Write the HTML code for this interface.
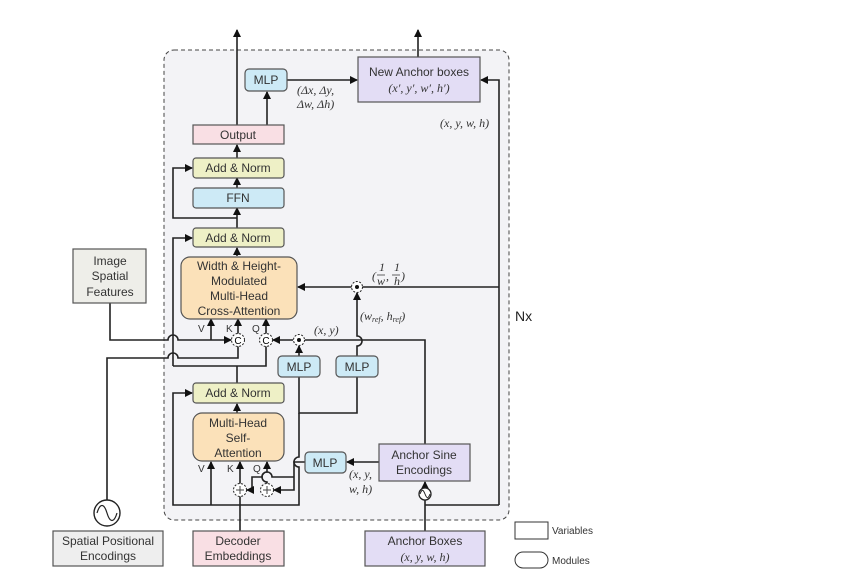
<!DOCTYPE html>
<html><head><meta charset="utf-8"><style>
html,body{margin:0;padding:0;background:#fff;}
svg{display:block;font-family:"Liberation Sans",sans-serif;}
.m{font-family:"Liberation Serif",serif;font-style:italic;font-size:12px;fill:#333;}
.t{font-size:12px;fill:#333;text-anchor:middle;}
.l{stroke:#222;stroke-width:1.6;fill:none;}
.b{stroke:#555;stroke-width:1.2;}
</style></head><body>
<svg width="864" height="582" viewBox="0 0 864 582">
<defs><marker id="a" viewBox="0 0 8 8" refX="7" refY="4" markerWidth="5" markerHeight="5" orient="auto"><path d="M0,0L8,4L0,8z" fill="#111"/></marker></defs>
<rect x="164" y="50" width="345" height="470" rx="10" fill="#f3f3f6" stroke="#444" stroke-dasharray="4,3"/>
<g class="l">
<path d="M237,125V30" marker-end="url(#a)"/>
<path d="M418,57V30" marker-end="url(#a)"/>
<path d="M267,125V92" marker-end="url(#a)"/>
<path d="M287,80H357" marker-end="url(#a)"/>
<path d="M499,505V80H481" marker-end="url(#a)"/>
<path d="M499,505H425"/>
<path d="M237,158V145" marker-end="url(#a)"/>
<path d="M237,188V178" marker-end="url(#a)"/>
<path d="M237,228V208" marker-end="url(#a)"/>
<path d="M237,218H173V168H192" marker-end="url(#a)"/>
<path d="M237,256V248" marker-end="url(#a)"/>
<path d="M237,383V366"/>
<path d="M173,366V238H192" marker-end="url(#a)"/>
<path d="M173,366H266V346"/>
<path d="M499,287H362"/>
<path d="M352,287H298" marker-end="url(#a)"/>
<path d="M357,356V346a5,5 0 0 0 0,-10V293" marker-end="url(#a)"/>
<path d="M425,444V340H305"/>
<path d="M293,340H273" marker-end="url(#a)"/>
<path d="M299,356V346" marker-end="url(#a)"/>
<path d="M299,377V413H357V377"/>
<path d="M110,303V340H168a5,5 0 0 1 10,0H231" marker-end="url(#a)"/>
<path d="M211,340V319" marker-end="url(#a)"/>
<path d="M238,334V319" marker-end="url(#a)"/>
<path d="M266,334V319" marker-end="url(#a)"/>
<path d="M107,500V358H168a5,5 0 0 1 10,0H238V346"/>
<path d="M237,413V404" marker-end="url(#a)"/>
<path d="M299,413V457a5,5 0 0 0 0,10V505H173V393H192" marker-end="url(#a)"/>
<path d="M211,505V462" marker-end="url(#a)"/>
<path d="M240,531V496"/>
<path d="M240,484V462" marker-end="url(#a)"/>
<path d="M267,484V482a5,5 0 0 1 0,-10V462" marker-end="url(#a)"/>
<path d="M379,462H347" marker-end="url(#a)"/>
<path d="M305,462H294V490H274" marker-end="url(#a)"/>
<path d="M294,477H272a5,5 0 0 0 -10,0H252V490H247" marker-end="url(#a)"/>
<path d="M425,531V482" marker-end="url(#a)"/>
</g>
<circle cx="357" cy="287" r="5.5" fill="#fff" stroke="#222" stroke-dasharray="2,1.5"/><circle cx="357" cy="287" r="2" fill="#111"/>
<circle cx="299" cy="340" r="5.5" fill="#fff" stroke="#222" stroke-dasharray="2,1.5"/><circle cx="299" cy="340" r="2" fill="#111"/>
<circle cx="238" cy="340" r="6.5" fill="#fff" stroke="#222" stroke-dasharray="2,1.5"/><text x="238" y="344" font-size="10" text-anchor="middle">C</text>
<circle cx="266" cy="340" r="6.5" fill="#fff" stroke="#222" stroke-dasharray="2,1.5"/><text x="266" y="344" font-size="10" text-anchor="middle">C</text>
<circle cx="240" cy="490" r="6.5" fill="#fff" stroke="#222" stroke-dasharray="2,1.5"/><path d="M236,490h8M240,486v8" stroke="#444"/>
<circle cx="267" cy="490" r="6.5" fill="#fff" stroke="#222" stroke-dasharray="2,1.5"/><path d="M263,490h8M267,486v8" stroke="#444"/>
<circle cx="107" cy="513" r="13" fill="#fff" stroke="#222" stroke-width="1.4"/><path d="M97,513c3,-10 7,-10 10,0s7,10 10,0" stroke="#222" fill="none" stroke-width="1.2"/>
<circle cx="425" cy="494" r="6" fill="#fff" stroke="#222" stroke-width="1.3"/><path d="M420,494c2,-5 3,-5 5,0s3,5 5,0" stroke="#222" fill="none"/>
<rect class="b" x="245" y="69" width="42" height="22" rx="4" fill="#cdeaf6"/><text class="t" x="266" y="84">MLP</text>
<rect class="b" x="358" y="57" width="122" height="45" fill="#e3ddf5"/><text class="t" x="419" y="76">New Anchor boxes</text><text class="m" x="419" y="92" text-anchor="middle">(x′, y′, w′, h′)</text>
<rect class="b" x="193" y="125" width="91" height="19" fill="#f9dfe4"/><text class="t" x="238" y="139">Output</text>
<rect class="b" x="193" y="158" width="91" height="20" rx="3" fill="#eef0c6"/><text class="t" x="238" y="172">Add &amp; Norm</text>
<rect class="b" x="193" y="188" width="91" height="20" rx="3" fill="#cdeaf6"/><text class="t" x="238" y="202">FFN</text>
<rect class="b" x="193" y="228" width="91" height="19" rx="3" fill="#eef0c6"/><text class="t" x="238" y="242">Add &amp; Norm</text>
<rect class="b" x="181" y="257" width="116" height="62" rx="9" fill="#fbe1b9"/>
<text class="t" x="239" y="270">Width &amp; Height-</text><text class="t" x="239" y="285">Modulated</text><text class="t" x="239" y="300">Multi-Head</text><text class="t" x="239" y="315">Cross-Attention</text>
<rect class="b" x="73" y="249" width="73" height="54" fill="#eeeee9"/><text class="t" x="110" y="265">Image</text><text class="t" x="110" y="280">Spatial</text><text class="t" x="110" y="296">Features</text>
<rect class="b" x="278" y="356" width="42" height="21" rx="4" fill="#cdeaf6"/><text class="t" x="299" y="371">MLP</text>
<rect class="b" x="336" y="356" width="42" height="21" rx="4" fill="#cdeaf6"/><text class="t" x="357" y="371">MLP</text>
<rect class="b" x="193" y="383" width="91" height="20" rx="3" fill="#eef0c6"/><text class="t" x="238" y="397">Add &amp; Norm</text>
<rect class="b" x="193" y="413" width="91" height="48" rx="9" fill="#fbe1b9"/><text class="t" x="238" y="427">Multi-Head</text><text class="t" x="238" y="442">Self-</text><text class="t" x="238" y="457">Attention</text>
<rect class="b" x="305" y="452" width="41" height="21" rx="4" fill="#cdeaf6"/><text class="t" x="325" y="467">MLP</text>
<rect class="b" x="379" y="444" width="91" height="37" fill="#e3ddf5"/><text class="t" x="424" y="459">Anchor Sine</text><text class="t" x="424" y="474">Encodings</text>
<rect class="b" x="53" y="531" width="110" height="35" fill="#eeeeee"/><text class="t" x="108" y="545">Spatial Positional</text><text class="t" x="108" y="560">Encodings</text>
<rect class="b" x="193" y="531" width="91" height="35" fill="#f9dfe4"/><text class="t" x="238" y="545">Decoder</text><text class="t" x="238" y="560">Embeddings</text>
<rect class="b" x="365" y="531" width="120" height="35" fill="#e3ddf5"/><text class="t" x="425" y="545">Anchor Boxes</text><text class="m" x="425" y="561" text-anchor="middle">(x, y, w, h)</text>
<text class="m" x="297" y="94">(Δx, Δy,</text><text class="m" x="297" y="108">Δw, Δh)</text>
<text class="m" x="440" y="127">(x, y, w, h)</text>
<text class="m" x="372" y="280">(</text><text class="m" x="379" y="271">1</text><path d="M377,275h8M392,275h8" stroke="#333" stroke-width="0.8"/><text class="m" x="377" y="285">w</text><text class="m" x="386" y="280">,</text><text class="m" x="394" y="271">1</text><text class="m" x="394" y="285">h</text><text class="m" x="401" y="280">)</text>
<text class="m" x="360" y="320">(w<tspan font-size="8" dy="2">ref</tspan><tspan dy="-2">, h</tspan><tspan font-size="8" dy="2">ref</tspan><tspan dy="-2">)</tspan></text>
<text class="m" x="314" y="334">(x, y)</text>
<text class="m" x="349" y="478">(x, y,</text><text class="m" x="349" y="493">w, h)</text>
<g font-size="10" fill="#333"><text x="198" y="332">V</text><text x="226" y="332">K</text><text x="252" y="332">Q</text>
<text x="198" y="472">V</text><text x="227" y="472">K</text><text x="253" y="472">Q</text></g>
<text x="515" y="321" font-size="14" fill="#222">Nx</text>
<rect x="515" y="522" width="33" height="17" fill="#fff" stroke="#333"/><text x="552" y="534" font-size="10" fill="#333">Variables</text>
<rect x="515" y="552" width="33" height="16" rx="8" fill="#fff" stroke="#333"/><text x="552" y="564" font-size="10" fill="#333">Modules</text>
</svg>
</body></html>
